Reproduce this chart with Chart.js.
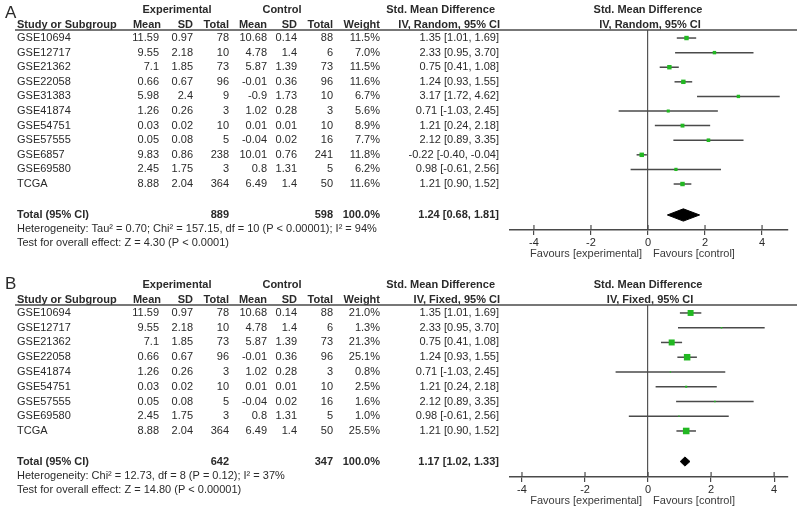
<!DOCTYPE html>
<html>
<head>
<meta charset="utf-8">
<script src="https://cdn.jsdelivr.net/npm/chart.js@4.4.0/dist/chart.umd.min.js"></script>
<style>
  body { margin: 0; background: #fff; }
  #wrap { position: relative; width: 800px; height: 511px; }
  canvas { position: absolute; left: 0; top: 0; }
</style>
</head>
<body>
<div id="wrap">
  <canvas id="chartA" width="800" height="511"></canvas>
  <canvas id="chartB" width="800" height="511"></canvas>
</div>
<script>
// Panel A - random effects
const studiesA = ['GSE10694', 'GSE12717', 'GSE21362', 'GSE22058', 'GSE31383', 'GSE41874', 'GSE54751', 'GSE57555', 'GSE6857', 'GSE69580', 'TCGA'];
const expMeanA = [11.59, 9.55, 7.1, 0.66, 5.98, 1.26, 0.03, 0.05, 9.83, 2.45, 8.88];
const expSdA = [0.97, 2.18, 1.85, 0.67, 2.4, 0.26, 0.02, 0.08, 0.86, 1.75, 2.04];
const expTotalA = [78, 10, 73, 96, 9, 3, 10, 5, 238, 3, 364];
const ctlMeanA = [10.68, 4.78, 5.87, -0.01, -0.9, 1.02, 0.01, -0.04, 10.01, 0.8, 6.49];
const ctlSdA = [0.14, 1.4, 1.39, 0.36, 1.73, 0.28, 0.01, 0.02, 0.76, 1.31, 1.4];
const ctlTotalA = [88, 6, 73, 96, 10, 3, 10, 16, 241, 5, 50];
const weightA = [11.5, 7.0, 11.5, 11.6, 6.7, 5.6, 8.9, 7.7, 11.8, 6.2, 11.6];
const smdA = [1.35, 2.33, 0.75, 1.24, 3.17, 0.71, 1.21, 2.12, -0.22, 0.98, 1.21];
const ciLowA = [1.01, 0.95, 0.41, 0.93, 1.72, -1.03, 0.24, 0.89, -0.40, -0.61, 0.90];
const ciHighA = [1.69, 3.70, 1.08, 1.55, 4.62, 2.45, 2.18, 3.35, -0.04, 2.56, 1.52];
const totalA = { exp: 889, ctl: 598, smd: 1.24, lo: 0.68, hi: 1.81 };

// Panel B - fixed effects
const studiesB = ['GSE10694', 'GSE12717', 'GSE21362', 'GSE22058', 'GSE41874', 'GSE54751', 'GSE57555', 'GSE69580', 'TCGA'];
const expMeanB = [11.59, 9.55, 7.1, 0.66, 1.26, 0.03, 0.05, 2.45, 8.88];
const expSdB = [0.97, 2.18, 1.85, 0.67, 0.26, 0.02, 0.08, 1.75, 2.04];
const expTotalB = [78, 10, 73, 96, 3, 10, 5, 3, 364];
const ctlMeanB = [10.68, 4.78, 5.87, -0.01, 1.02, 0.01, -0.04, 0.8, 6.49];
const ctlSdB = [0.14, 1.4, 1.39, 0.36, 0.28, 0.01, 0.02, 1.31, 1.4];
const ctlTotalB = [88, 6, 73, 96, 3, 10, 16, 5, 50];
const weightB = [21.0, 1.3, 21.3, 25.1, 0.8, 2.5, 1.6, 1.0, 25.5];
const smdB = [1.35, 2.33, 0.75, 1.24, 0.71, 1.21, 2.12, 0.98, 1.21];
const ciLowB = [1.01, 0.95, 0.41, 0.93, -1.03, 0.24, 0.89, -0.61, 0.90];
const ciHighB = [1.69, 3.70, 1.08, 1.55, 2.45, 2.18, 3.35, 2.56, 1.52];
const totalB = { exp: 642, ctl: 347, smd: 1.17, lo: 1.02, hi: 1.33 };

const xTicks = [-4, -2, 0, 2, 4];

const FONT = '"Liberation Sans", Arial, sans-serif';
const TEXT = '#2a2a2a';
const LINE = '#4a4a4a';
const GREEN = '#22b822';

function fmt2(v) { return v.toFixed(2); }

function makePanel(p) {
  const n = p.studies.length;
  const totalRow = p.totalRow;

  // table, headers and footnotes
  const tablePlugin = {
    id: 'table' + p.label,
    afterDraw(chart) {
      const ctx = chart.ctx;
      const ys = chart.scales.y;
      const xs = chart.scales.x;
      const area = chart.chartArea;
      const top = area.top;
      ctx.save();
      ctx.fillStyle = TEXT;
      ctx.textBaseline = 'middle';

      // panel letter
      ctx.font = '17px ' + FONT;
      ctx.textAlign = 'left';
      ctx.fillText(p.label, 5, top - p.letterOff);

      // header row 1
      ctx.font = 'bold 11px ' + FONT;
      ctx.textAlign = 'center';
      ctx.fillText('Experimental', 177, top - 20);
      ctx.fillText('Control', 282, top - 20);
      ctx.fillText('Std. Mean Difference', xs.getPixelForValue(0), top - 20);
      ctx.textAlign = 'right';
      ctx.fillText('Std. Mean Difference', 495, top - 20);

      // header row 2
      ctx.textAlign = 'left';
      ctx.fillText('Study or Subgroup', 17, top - 5.5);
      ctx.textAlign = 'right';
      const hdr = ['Mean', 'SD', 'Total', 'Mean', 'SD', 'Total', 'Weight'];
      const hdrX = [161, 193, 229, 267, 297, 333, 380];
      hdr.forEach((h, i) => ctx.fillText(h, hdrX[i], top - 5.5));
      ctx.fillText(p.method, 500, top - 5.5);
      ctx.textAlign = 'center';
      ctx.fillText(p.method, xs.getPixelForValue(0) + 2, top - 5.5);

      // header underline
      ctx.strokeStyle = LINE;
      ctx.lineWidth = 1.5;
      ctx.beginPath();
      ctx.moveTo(15, top);
      ctx.lineTo(797, top);
      ctx.stroke();

      // study rows
      ctx.font = '11px ' + FONT;
      const numX = [159, 193, 229, 267, 297, 333, 380];
      for (let i = 0; i < n; i++) {
        const y = ys.getPixelForValue(i);
        ctx.textAlign = 'left';
        ctx.fillText(p.studies[i], 17, y);
        ctx.textAlign = 'right';
        const cells = [
          String(p.expMean[i]), String(p.expSd[i]), String(p.expTotal[i]),
          String(p.ctlMean[i]), String(p.ctlSd[i]), String(p.ctlTotal[i]),
          p.weight[i].toFixed(1) + '%'
        ];
        cells.forEach((c, k) => ctx.fillText(c, numX[k], y));
        ctx.fillText(fmt2(p.smd[i]) + ' [' + fmt2(p.lo[i]) + ', ' + fmt2(p.hi[i]) + ']', 499, y);
      }

      // total row
      const ty = ys.getPixelForValue(totalRow);
      ctx.font = 'bold 11px ' + FONT;
      ctx.textAlign = 'left';
      ctx.fillText('Total (95% CI)', 17, ty);
      ctx.textAlign = 'right';
      ctx.fillText(String(p.total.exp), 229, ty);
      ctx.fillText(String(p.total.ctl), 333, ty);
      ctx.fillText('100.0%', 380, ty);
      ctx.fillText(fmt2(p.total.smd) + ' [' + fmt2(p.total.lo) + ', ' + fmt2(p.total.hi) + ']', 499, ty);

      // footnotes
      ctx.font = '11px ' + FONT;
      ctx.textAlign = 'left';
      ctx.fillText(p.hetero, 17, ty + 14);
      ctx.fillText(p.overall, 17, ty + 28.5);

      // upper half of the tick marks
      ctx.strokeStyle = LINE;
      ctx.lineWidth = 1.2;
      xs.ticks.forEach(t => {
        const px = xs.getPixelForValue(t.value);
        ctx.beginPath();
        ctx.moveTo(px, area.bottom - 5);
        ctx.lineTo(px, area.bottom);
        ctx.stroke();
      });

      // favours labels
      const zx = xs.getPixelForValue(0);
      ctx.fillStyle = '#3a3a3a';
      ctx.textAlign = 'right';
      ctx.fillText('Favours [experimental]', zx - 6, area.bottom + 23.5);
      ctx.textAlign = 'left';
      ctx.fillText('Favours [control]', zx + 5, area.bottom + 23.5);
      ctx.restore();
    }
  };

  const datasets = [];
  // point estimates, size from weight
  datasets.push({
    data: p.smd.map((v, i) => ({ x: v, y: i })),
    pointStyle: 'rect',
    pointRadius: p.weight.map(w => Math.max(0.9, 1.3 * Math.sqrt(w) / 1.414)),
    backgroundColor: GREEN,
    borderWidth: 0,
    showLine: false
  });
  // pooled diamond
  const t = p.total;
  datasets.push({
    data: [
      { x: t.lo, y: totalRow },
      { x: t.smd, y: totalRow - p.diamondH },
      { x: t.hi, y: totalRow },
      { x: t.smd, y: totalRow + p.diamondH },
      { x: t.lo, y: totalRow }
    ],
    showLine: true,
    fill: 'shape',
    backgroundColor: '#000',
    borderColor: '#000',
    borderWidth: 1,
    pointRadius: 0,
    tension: 0
  });
  // confidence intervals
  for (let i = 0; i < n; i++) {
    datasets.push({
      data: [{ x: p.lo[i], y: i }, { x: p.hi[i], y: i }],
      showLine: true,
      borderColor: LINE,
      borderWidth: 1.5,
      pointRadius: 0
    });
  }

  return new Chart(document.getElementById(p.canvas), {
    type: 'scatter',
    data: { datasets },
    options: {
      responsive: false,
      animation: false,
      devicePixelRatio: 1,
      layout: { padding: { left: 510, right: 12, top: p.top, bottom: p.bottom } },
      plugins: { legend: { display: false }, tooltip: { enabled: false } },
      scales: {
        x: {
          type: 'linear',
          min: p.xMin,
          max: p.xMax,
          afterBuildTicks: s => { s.ticks = xTicks.map(v => ({ value: v })); },
          afterFit: s => { s.height = 22; },
          grid: {
            drawOnChartArea: true,
            color: c => (c.tick && c.tick.value === 0 ? '#555' : 'rgba(0,0,0,0)'),
            tickColor: LINE,
            tickLength: 5,
            lineWidth: 1.2
          },
          border: { display: true, color: LINE, width: 1.5 },
          ticks: { color: TEXT, padding: 1, font: { family: FONT, size: 11 } }
        },
        y: {
          type: 'linear',
          reverse: true,
          min: p.yMin,
          max: p.yMax,
          display: false
        }
      }
    },
    plugins: [tablePlugin]
  });
}

makePanel({
  label: 'A', canvas: 'chartA', method: 'IV, Random, 95% CI', letterOff: 17,
  studies: studiesA, expMean: expMeanA, expSd: expSdA, expTotal: expTotalA,
  ctlMean: ctlMeanA, ctlSd: ctlSdA, ctlTotal: ctlTotalA, weight: weightA,
  smd: smdA, lo: ciLowA, hi: ciHighA, total: totalA,
  hetero: 'Heterogeneity: Tau\u00B2 = 0.70; Chi\u00B2 = 157.15, df = 10 (P < 0.00001); I\u00B2 = 94%',
  overall: 'Test for overall effect: Z = 4.30 (P < 0.0001)',
  totalRow: 12.12, diamondH: 0.42,
  top: 30, bottom: 259, yMin: -0.55, yMax: 13.15, xMin: -4.84, xMax: 4.91
});

makePanel({
  label: 'B', canvas: 'chartB', method: 'IV, Fixed, 95% CI', letterOff: 21,
  studies: studiesB, expMean: expMeanB, expSd: expSdB, expTotal: expTotalB,
  ctlMean: ctlMeanB, ctlSd: ctlSdB, ctlTotal: ctlTotalB, weight: weightB,
  smd: smdB, lo: ciLowB, hi: ciHighB, total: totalB,
  hetero: 'Heterogeneity: Chi\u00B2 = 12.73, df = 8 (P = 0.12); I\u00B2 = 37%',
  overall: 'Test for overall effect: Z = 14.80 (P < 0.00001)',
  totalRow: 10.07, diamondH: 0.31,
  top: 305, bottom: 12, yMin: -0.54, yMax: 11.12, xMin: -4.38, xMax: 4.44
});
</script>
</body>
</html>
